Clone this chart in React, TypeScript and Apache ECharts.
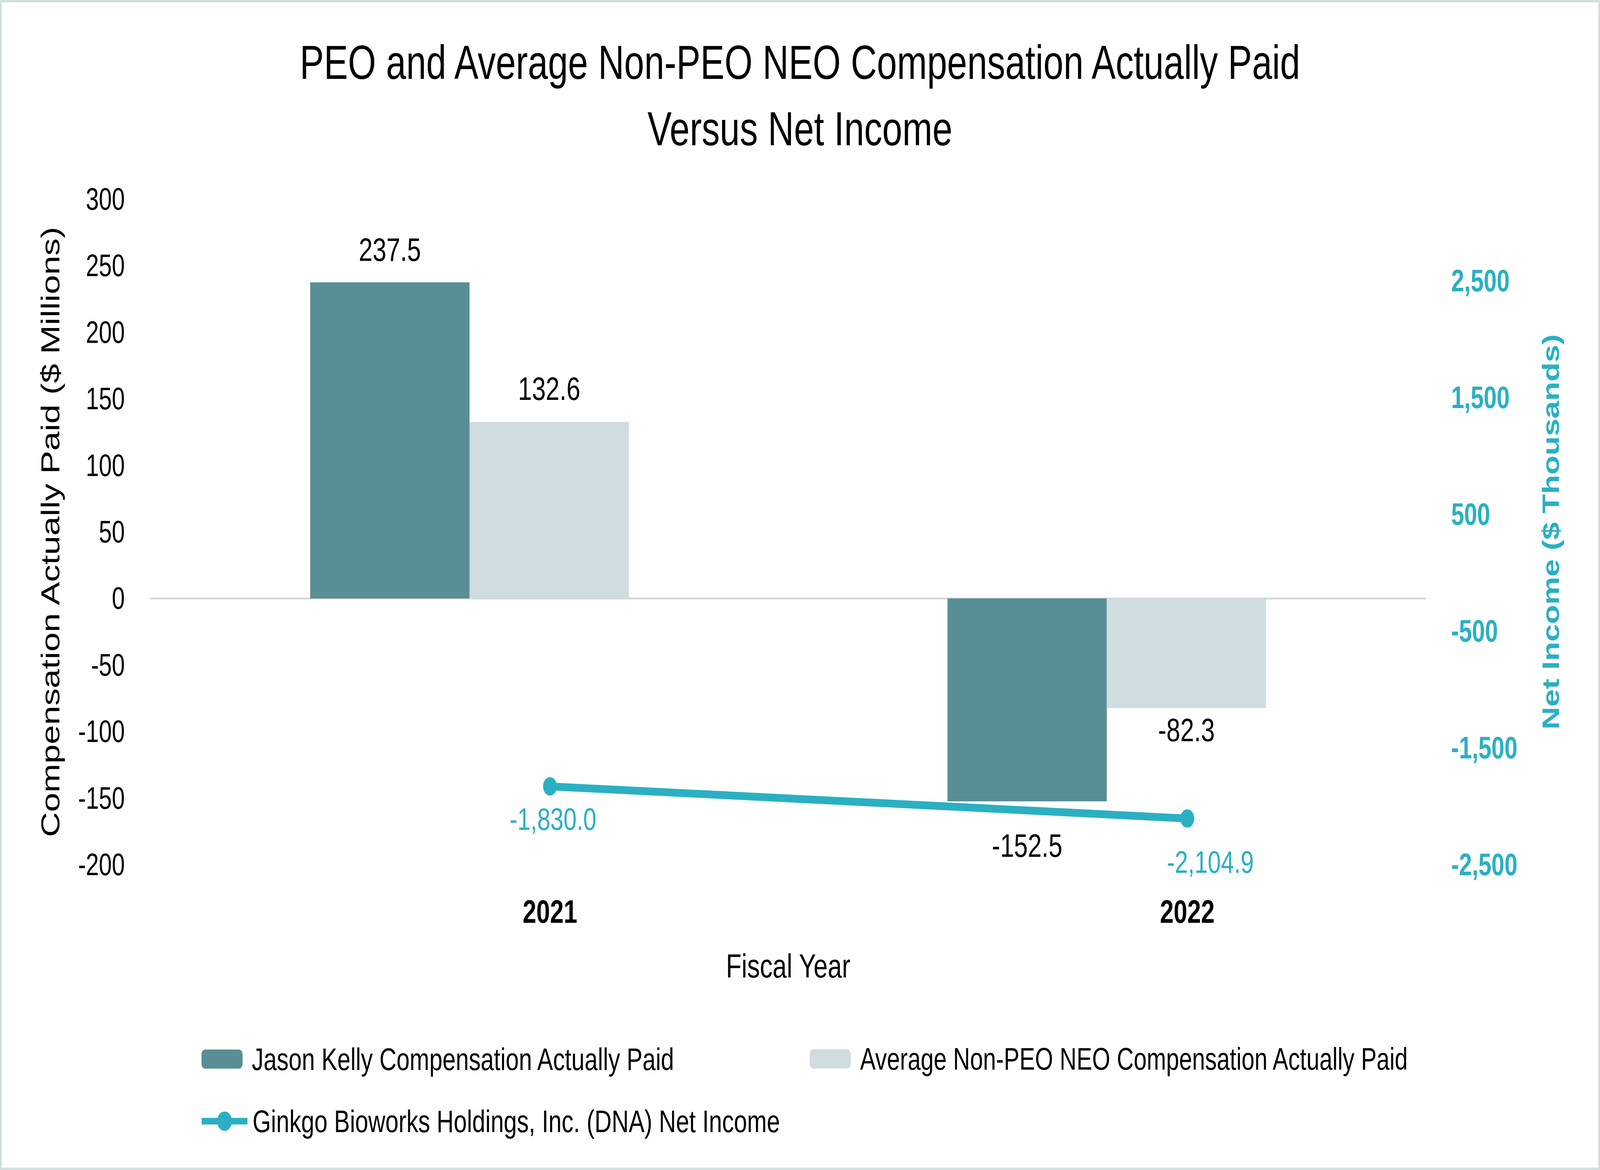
import React, { useEffect, useRef } from "react";
import * as echarts from "echarts";

// ---- data ----
const categories = ["2021", "2022"];
const peoCap = [237.5, -152.5];
const neoCap = [132.6, -82.3];
const netIncome = [-1830.0, -2104.9];
const rightTicks = [-2500, -1500, -500, 500, 1500, 2500];

const seriesNames = [
  "Jason Kelly Compensation Actually Paid",
  "Average Non-PEO NEO Compensation Actually Paid",
  "Ginkgo Bioworks Holdings, Inc. (DNA) Net Income",
];

// ---- styles (reference pixels; the chart is laid out on a 5408x2996 canvas) ----
const REF_W = 5408;
const REF_H = 2996;
const FONT = "'Liberation Sans', Arial, sans-serif";
const DARK = "#598E96";
const LIGHT = "#CFDCE0";
const TEAL = "#2AB0C2";
const peoLabelDist = [42, 71];
const neoLabelDist = [43, 14];
const lineLabelDist = [20, 48];
const lineLabelOffset = [[10, 0], [78, 0]];

const fmt1 = (v: number) =>
  v.toLocaleString("en-US", { minimumFractionDigits: 1, maximumFractionDigits: 1 });

export default function App() {
  const ref = useRef<HTMLDivElement>(null);
  const W = typeof window !== "undefined" ? window.innerWidth : REF_W;
  const H = typeof window !== "undefined" ? window.innerHeight : REF_H;
  const sx = W / REF_W;
  const sy = H / REF_H;

  useEffect(() => {
    if (!ref.current) return;
    const chart = echarts.init(ref.current, undefined, { renderer: "svg" });
    const legendText = { fontFamily: FONT, fontSize: 80, color: "#000", padding: [0, 0, 0, 26] };
    const option: any = {
      animation: false,
      backgroundColor: "#ffffff",
      textStyle: { fontFamily: FONT },
      graphic: [
        {
          type: "rect",
          shape: { x: 3, y: 3, width: REF_W - 6, height: REF_H - 6 },
          style: { fill: "none", stroke: "#D1DEE0", lineWidth: 6 },
          silent: true,
          z: 100,
        },
      ],
      title: {
        text: "PEO and Average Non-PEO NEO Compensation Actually Paid\nVersus Net Income",
        left: "center",
        top: 70,
        textStyle: {
          fontFamily: FONT,
          fontSize: 122,
          fontWeight: "normal",
          color: "#000",
          lineHeight: 170,
        },
      },
      legend: [
        {
          data: [seriesNames[0]],
          left: 676,
          top: 2667,
          itemWidth: 139,
          itemHeight: 49,
          textStyle: legendText,
        },
        {
          data: [seriesNames[1]],
          left: 2732,
          top: 2667,
          itemWidth: 139,
          itemHeight: 49,
          textStyle: { ...legendText, fontSize: 79 },
        },
        {
          data: [seriesNames[2]],
          left: 668,
          top: 2826,
          itemWidth: 155,
          itemHeight: 62,
          lineStyle: { width: 17 },
          textStyle: { ...legendText, padding: [0, 0, 0, 12] },
        },
      ],
      grid: [
        { left: 510, right: 590, top: 510, bottom: 782, outerBoundsMode: "none", containLabel: false },
        { left: 782, right: 318, top: 510, bottom: 782, outerBoundsMode: "none", containLabel: false },
      ],
      xAxis: [
        {
          type: "category",
          gridIndex: 0,
          data: categories,
          axisLine: { show: true, onZero: true, lineStyle: { color: "#D9D9D9", width: 5 } },
          axisTick: { show: false },
          axisLabel: { show: false },
          name: "Fiscal Year",
          nameLocation: "middle",
          nameGap: 216,
          nameTextStyle: { fontFamily: FONT, fontSize: 86, color: "#000" },
        },
        {
          type: "category",
          gridIndex: 1,
          data: categories,
          axisLine: { show: false, onZero: false },
          axisTick: { show: false },
          axisLabel: {
            show: true,
            margin: 79,
            fontFamily: FONT,
            fontSize: 83,
            fontWeight: "bold",
            color: "#000",
          },
        },
      ],
      yAxis: [
        {
          type: "value",
          gridIndex: 0,
          position: "left",
          min: -200,
          max: 300,
          interval: 50,
          axisLine: { show: false },
          axisTick: { show: false },
          splitLine: { show: false },
          axisLabel: { margin: 88, fontFamily: FONT, fontSize: 79, color: "#000" },
          name: "Compensation Actually Paid ($ Millions)",
          nameLocation: "middle",
          nameRotate: 90,
          nameGap: 295,
          nameTextStyle: { fontFamily: FONT, fontSize: 89, color: "#000" },
        },
        {
          type: "value",
          gridIndex: 0,
          position: "right",
          min: -2500,
          max: 3200,
          interval: 500,
          axisLine: { show: false },
          axisTick: { show: false },
          splitLine: { show: false },
          axisLabel: {
            margin: 87,
            fontFamily: FONT,
            fontSize: 79,
            fontWeight: "bold",
            color: TEAL,
            formatter: (v: number) => (rightTicks.includes(v) ? v.toLocaleString("en-US") : ""),
          },
          name: "Net Income ($ Thousands)",
          nameLocation: "middle",
          nameRotate: 90,
          nameGap: 383,
          nameTextStyle: { fontFamily: FONT, fontSize: 81, fontWeight: "bold", color: TEAL },
        },
        {
          type: "value",
          gridIndex: 1,
          position: "right",
          min: -2500,
          max: 3200,
          show: false,
          splitLine: { show: false },
        },
      ],
      series: [
        {
          name: seriesNames[0],
          type: "bar",
          xAxisIndex: 0,
          yAxisIndex: 0,
          barWidth: "25%",
          barGap: "0%",
          itemStyle: { color: DARK },
          data: peoCap.map((v, i) => ({
            value: v,
            label: { position: v >= 0 ? "top" : "bottom", distance: peoLabelDist[i] },
          })),
          label: {
            show: true,
            fontFamily: FONT,
            fontSize: 84,
            color: "#000",
            formatter: (q: any) => fmt1(q.value),
          },
        },
        {
          name: seriesNames[1],
          type: "bar",
          xAxisIndex: 0,
          yAxisIndex: 0,
          barWidth: "25%",
          barGap: "0%",
          itemStyle: { color: LIGHT },
          data: neoCap.map((v, i) => ({
            value: v,
            label: { position: v >= 0 ? "top" : "bottom", distance: neoLabelDist[i] },
          })),
          label: {
            show: true,
            fontFamily: FONT,
            fontSize: 84,
            color: "#000",
            formatter: (q: any) => fmt1(q.value),
          },
        },
        {
          name: seriesNames[2],
          type: "line",
          xAxisIndex: 1,
          yAxisIndex: 2,
          symbol: "circle",
          symbolSize: 47,
          itemStyle: { color: TEAL },
          lineStyle: { color: TEAL, width: 20 },
          data: netIncome.map((v, i) => ({
            value: v,
            label: { distance: lineLabelDist[i], offset: lineLabelOffset[i] },
          })),
          label: {
            show: true,
            position: "bottom",
            fontFamily: FONT,
            fontSize: 80,
            color: TEAL,
            formatter: (q: any) => fmt1(q.value),
          },
        },
      ],
    };
    chart.setOption(option);
    return () => chart.dispose();
  }, []);
  return (
    <div style={{ position: "fixed", left: 0, top: 0, width: W, height: H, overflow: "hidden" }}>
      <div
        ref={ref}
        style={{
          position: "absolute",
          left: 0,
          top: 0,
          width: REF_W,
          height: REF_H,
          transform: `scale(${sx}, ${sy})`,
          transformOrigin: "0 0",
        }}
      />
    </div>
  );
}
